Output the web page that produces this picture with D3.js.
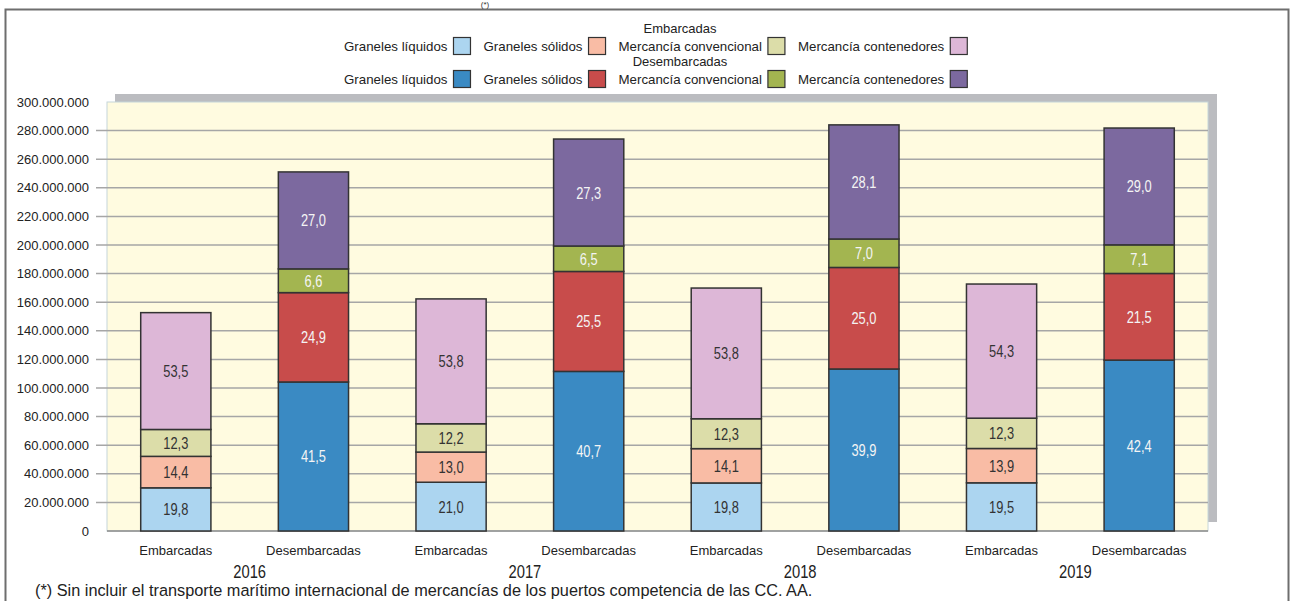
<!DOCTYPE html>
<html>
<head>
<meta charset="utf-8">
<script src="https://cdn.jsdelivr.net/npm/d3@7"></script>
<style>
  html, body { margin: 0; padding: 0; background: #ffffff; }
  svg { display: block; }
  .sans { font-family: "Liberation Sans", Arial, Helvetica, sans-serif; }
</style>
</head>
<body>
<svg id="chart" width="1294" height="601"></svg>
<script>
// ---------- DATA ----------
const years = ["2016", "2017", "2018", "2019"];
const flows = ["Embarcadas", "Desembarcadas"];
const cargoTypes = ["Graneles líquidos", "Graneles sólidos", "Mercancía convencional", "Mercancía contenedores"];

// tonnes, order: [2016 Emb, 2016 Des, 2017 Emb, 2017 Des, 2018 Emb, 2018 Des, 2019 Emb, 2019 Des]
const granelesLiquidos      = [30200000, 104200000, 34100000, 111600000, 33600000, 113300000, 33700000, 119500000];
const granelesSolidos       = [22000000,  62500000, 21100000,  69900000, 24000000,  71000000, 24000000,  60600000];
const mercanciaConvencional = [18800000,  16600000, 19800000,  17800000, 20900000,  19900000, 21200000,  20000000];
const mercanciaContenedores = [81700000,  67800000, 87300000,  74800000, 91400000,  79800000, 93800000,  81700000];

// percentage labels shown inside the segments
const pctLiquidos      = ["19,8", "41,5", "21,0", "40,7", "19,8", "39,9", "19,5", "42,4"];
const pctSolidos       = ["14,4", "24,9", "13,0", "25,5", "14,1", "25,0", "13,9", "21,5"];
const pctConvencional  = ["12,3", "6,6",  "12,2", "6,5",  "12,3", "7,0",  "12,3", "7,1"];
const pctContenedores  = ["53,5", "27,0", "53,8", "27,3", "53,8", "28,1", "54,3", "29,0"];

const yTicks = [0, 20000000, 40000000, 60000000, 80000000, 100000000, 120000000, 140000000,
                160000000, 180000000, 200000000, 220000000, 240000000, 260000000, 280000000, 300000000];

const footnote = "(*) Sin incluir el transporte marítimo internacional de mercancías de los puertos competencia de las CC. AA.";

// ---------- STYLE ----------
const colorsEmb = ["#acd5f0", "#f9bca5", "#dcdda9", "#ddb7d7"];
const colorsDes = ["#3a8ac3", "#c84c4b", "#a3b550", "#7c699f"];

// ---------- BUILD ----------
const series = [granelesLiquidos, granelesSolidos, mercanciaConvencional, mercanciaContenedores];
const pcts = [pctLiquidos, pctSolidos, pctConvencional, pctContenedores];
const barKeys = [];
years.forEach(y => flows.forEach(f => barKeys.push(y + "|" + f)));
const rows = barKeys.map((k, i) => {
  const r = { key: k, flow: k.split("|")[1], idx: i };
  cargoTypes.forEach((c, j) => r[c] = series[j][i]);
  return r;
});
const stack = d3.stack().keys(cargoTypes)(rows);

const svg = d3.select("#chart");
const fmt = d3.formatLocale({ decimal: ",", thousands: ".", grouping: [3], currency: ["", "€"] }).format(",.0f");

const plot = { left: 107, right: 1208, top: 102, bottom: 531 };

// outer frame
svg.append("rect").attr("x", 5.5).attr("y", 9.5).attr("width", 1283).attr("height", 600)
  .attr("fill", "none").attr("stroke", "#6e6e6e").attr("stroke-width", 2);

// title (mostly outside the frame, as in the original)
svg.append("text").attr("class", "sans").attr("x", 485).attr("y", 7)
  .attr("text-anchor", "middle").attr("font-size", 8).attr("fill", "#333").text("(*)");

const x = d3.scaleBand().domain(barKeys).range([plot.left, plot.right]).paddingInner(0.49).paddingOuter(0.245);
const y = d3.scaleLinear().domain([0, 300000000]).range([plot.bottom, plot.top]);

// shadow + plot background
svg.append("rect").attr("x", plot.left + 8).attr("y", plot.top - 8)
  .attr("width", plot.right - plot.left + 1).attr("height", plot.bottom - plot.top - 1)
  .attr("fill", "#bbbcc0");
svg.append("rect").attr("x", plot.left).attr("y", plot.top)
  .attr("width", plot.right - plot.left).attr("height", plot.bottom - plot.top)
  .attr("fill", "#fffbe0").attr("stroke", "#c6d6da").attr("stroke-width", 1);

// grid lines
svg.append("g").selectAll("line").data(yTicks.filter(t => t > 0 && t < 300000000)).join("line")
  .attr("x1", plot.left - 11).attr("x2", plot.right)
  .attr("y1", d => y(d)).attr("y2", d => y(d))
  .attr("stroke", "#a6a6a6").attr("stroke-width", 1.5);

// y axis labels
const yAxis = d3.axisLeft(y).tickValues(yTicks).tickFormat(d => fmt(d)).tickSize(0).tickPadding(18);
const yg = svg.append("g").attr("transform", `translate(${plot.left},0)`).call(yAxis);
yg.select(".domain").remove();
yg.selectAll("text").attr("class", "sans").attr("font-size", 13).attr("fill", "#222");

// baseline
svg.append("line").attr("x1", plot.left).attr("x2", plot.right)
  .attr("y1", plot.bottom).attr("y2", plot.bottom)
  .attr("stroke", "#8a8a8a").attr("stroke-width", 1.5);

// bars
const layers = svg.append("g").selectAll("g").data(stack).join("g");
layers.selectAll("rect").data((d, li) => d.map(s => ({ s, li }))).join("rect")
  .attr("x", d => x(d.s.data.key))
  .attr("width", x.bandwidth())
  .attr("y", d => y(d.s[1]))
  .attr("height", d => y(d.s[0]) - y(d.s[1]))
  .attr("fill", d => (d.s.data.flow === "Embarcadas" ? colorsEmb : colorsDes)[d.li])
  .attr("stroke", "#333").attr("stroke-width", 1.5);

// segment labels, condensed
layers.selectAll("text").data((d, li) => d.map(s => ({ s, li }))).join("text")
  .attr("class", "sans")
  .attr("transform", d => `translate(${x(d.s.data.key) + x.bandwidth() / 2},${(y(d.s[0]) + y(d.s[1])) / 2 + 6}) scale(0.78,1)`)
  .attr("text-anchor", "middle").attr("font-size", 16.5)
  .attr("fill", d => d.s.data.flow === "Embarcadas" ? "#333" : "#f4f4f4")
  .text(d => pcts[d.li][d.s.data.idx]);

// x labels
svg.append("g").selectAll("text").data(barKeys).join("text")
  .attr("class", "sans")
  .attr("x", d => x(d) + x.bandwidth() / 2).attr("y", 555)
  .attr("text-anchor", "middle").attr("font-size", 13).attr("fill", "#222")
  .text(d => d.split("|")[1]);

// year labels, condensed
svg.append("g").selectAll("text").data(years).join("text")
  .attr("class", "sans")
  .attr("transform", d => `translate(${(x(d + "|Embarcadas") + x(d + "|Desembarcadas") + x.bandwidth()) / 2 + 5},578) scale(0.82,1)`)
  .attr("text-anchor", "middle").attr("font-size", 18).attr("fill", "#222")
  .text(d => d);

// footnote
svg.append("text").attr("class", "sans").attr("x", 35).attr("y", 596)
  .attr("font-size", 16.3).attr("fill", "#222").text(footnote);

// legend
const legend = svg.append("g");
function legendRow(title, colors, titleY, rowY) {
  legend.append("text").attr("class", "sans").attr("x", 680).attr("y", titleY)
    .attr("text-anchor", "middle").attr("font-size", 13).attr("fill", "#222").text(title);
  let cx = 344;
  cargoTypes.forEach((c, i) => {
    const t = legend.append("text").attr("class", "sans").attr("x", cx).attr("y", rowY + 5)
      .attr("font-size", 13.3).attr("fill", "#222").text(c);
    const w = t.node().getComputedTextLength();
    const sx = cx + w + 6;
    legend.append("rect").attr("x", sx).attr("y", rowY - 8.5).attr("width", 17).attr("height", 17)
      .attr("fill", colors[i]).attr("stroke", "#333").attr("stroke-width", 1.2);
    cx = sx + 17 + 13;
  });
}
legendRow("Embarcadas", colorsEmb, 33, 46);
legendRow("Desembarcadas", colorsDes, 66, 79);
</script>
</body>
</html>
